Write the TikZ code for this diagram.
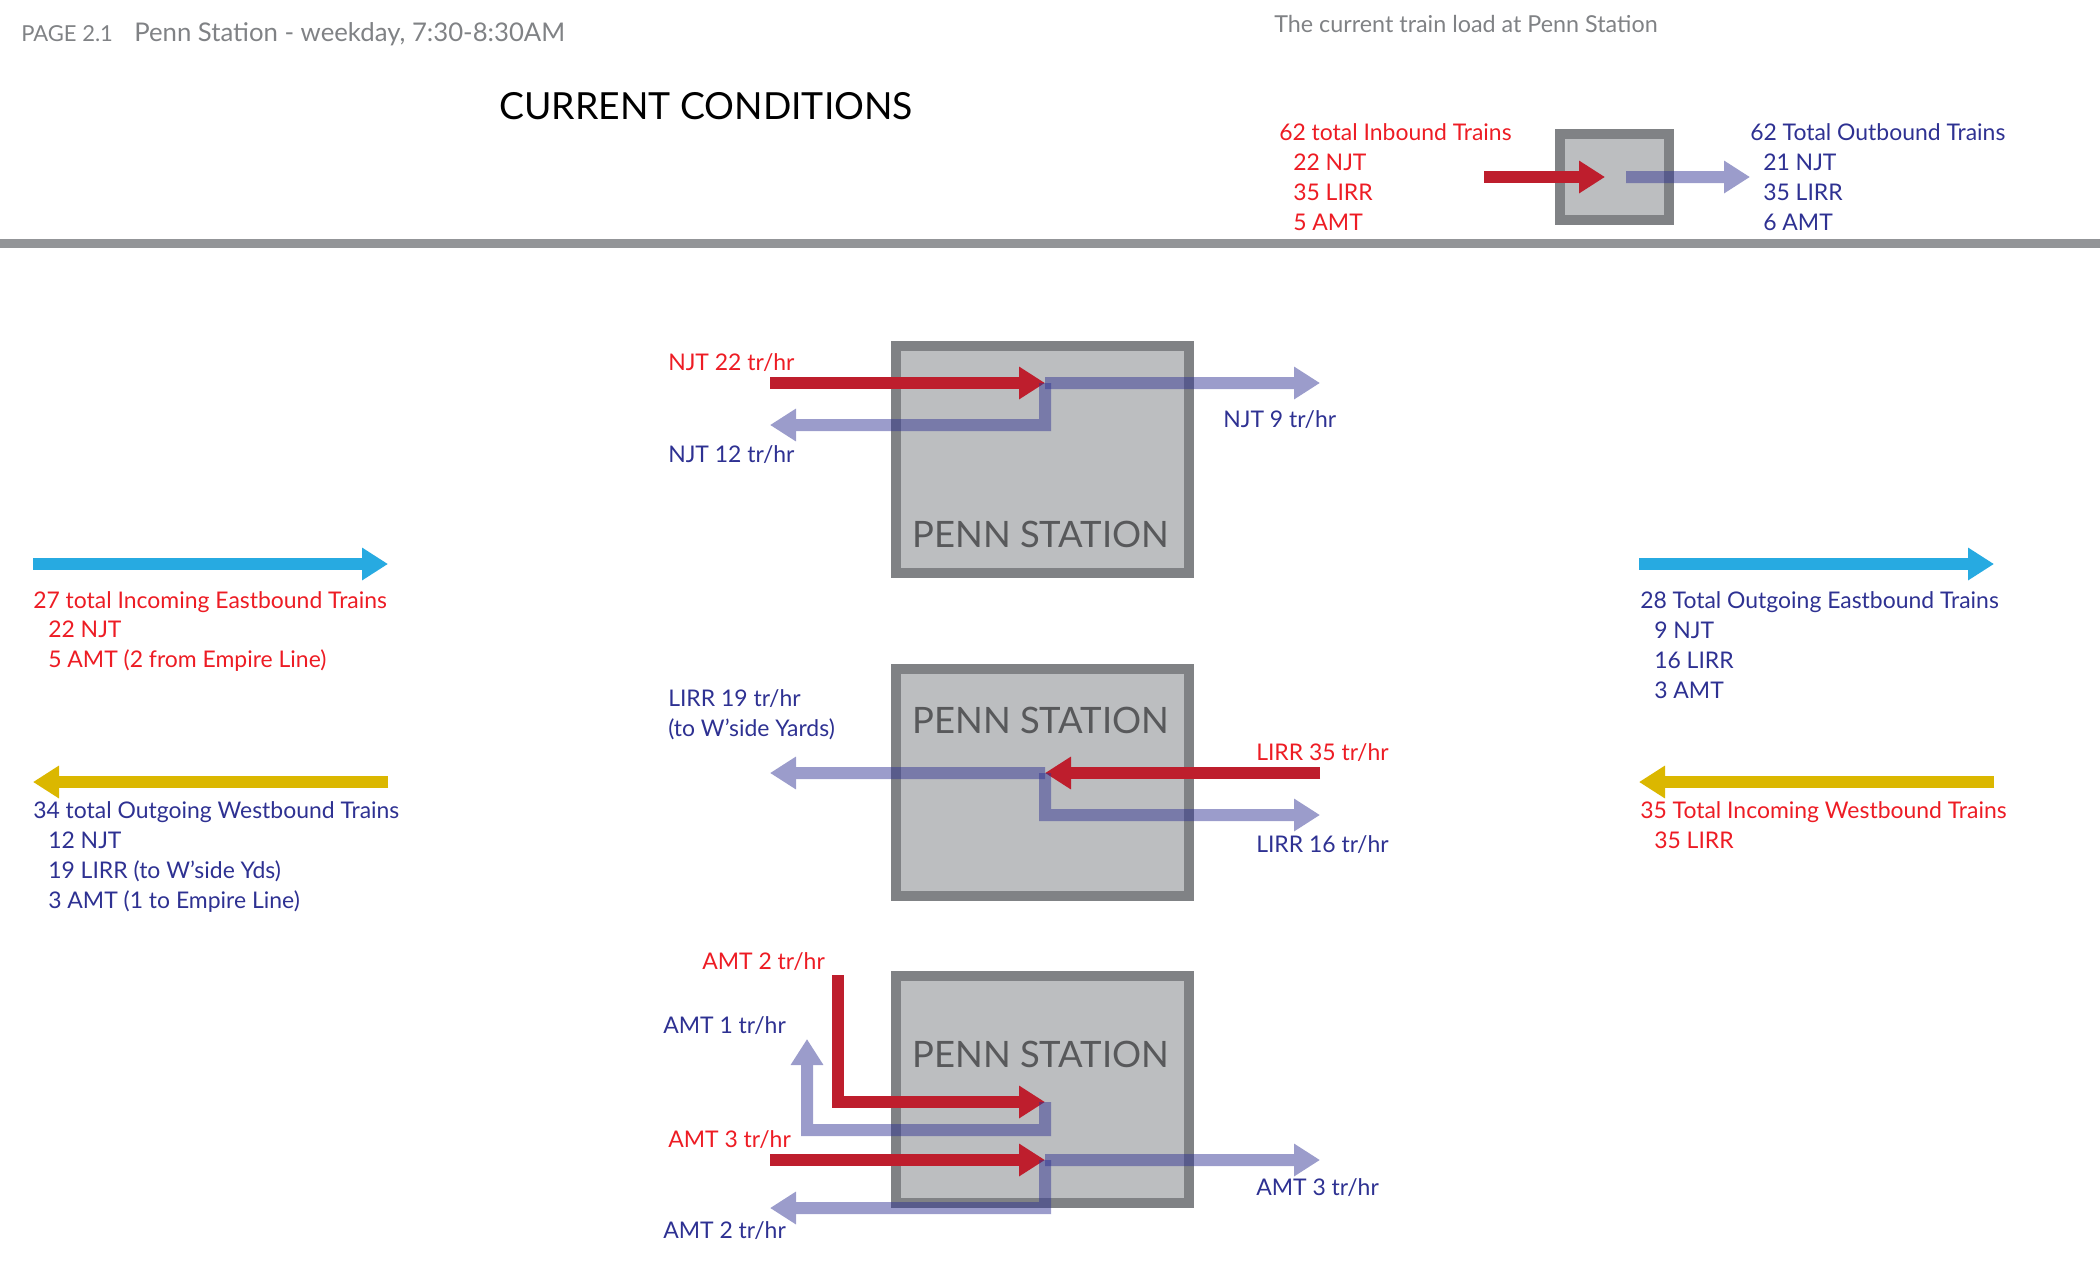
\documentclass[tikz,border=0pt]{standalone}
\usepackage{fontspec}
\setmainfont{Lato}
\usetikzlibrary{arrows.meta}

\definecolor{hdrgray}{RGB}{128,130,133}
\definecolor{rulegray}{RGB}{147,149,152}
\definecolor{boxgray}{RGB}{128,130,133}
\definecolor{boxfill}{RGB}{188,190,192}
\definecolor{stngray}{RGB}{88,89,91}
\definecolor{txtred}{RGB}{237,28,36}
\definecolor{txtblue}{RGB}{46,49,146}
\definecolor{arrred}{RGB}{190,30,45}
\definecolor{arrblue}{RGB}{46,49,146}
\definecolor{arrcyan}{RGB}{39,170,225}
\definecolor{arryellow}{RGB}{219,183,0}

\begin{document}
\begin{tikzpicture}[x=0.75pt,y=0.75pt,yscale=-1,xscale=1,
  lbl/.style={anchor=base west,inner sep=0pt,align=left,font=\fontsize{17.2}{22.4}\selectfont},
  redtxt/.style={lbl,text=txtred},
  bluetxt/.style={lbl,text=txtblue},
  hdrtxt/.style={anchor=base west,inner sep=0pt,text=hdrgray},
  stnbox/.style={draw=boxgray,fill=boxfill,line width=7.5pt,minimum width=219.75pt,minimum height=170.25pt,inner sep=0pt},
  stntxt/.style={anchor=base west,inner sep=0pt,text=stngray,font=\fontsize{27.3}{30}\selectfont},
  flow/.style={line width=9pt,-{Triangle[length=19.5pt,width=23.25pt]}},
  inflow/.style={flow,draw=arrred},
  outflow/.style={flow,draw=arrblue},
  ghost/.style={transparency group,opacity=0.48}]
\useasboundingbox (0,0) rectangle (2100,1275);

%Header
\node[hdrtxt,font=\fontsize{16.5}{19}\selectfont] (pagenum) at (21,41) {PAGE 2.1};
\node[hdrtxt,font=\fontsize{19.3}{22}\selectfont] (pagetitle) at (134,41) {Penn Station - weekday, 7:30-8:30AM};
\node[hdrtxt,font=\fontsize{17.5}{20}\selectfont] (loadtitle) at (1274,32) {The current train load at Penn Station};
\node[anchor=base west,inner sep=0pt,font=\fontsize{28}{32}\selectfont] (condtitle) at (499,119) {CURRENT CONDITIONS};
%Rule
\fill[rulegray] (0,239) rectangle (2100,248);

%Shape: station boxes
\node[stnbox,minimum width=81.75pt,minimum height=64.5pt] (stnall) at (1614.5,177) {};
\node[stnbox] (stnnjt) at (1042.5,459.5) {};
\node[stnbox] (stnlirr) at (1042.5,782) {};
\node[stnbox] (stnamt) at (1042.5,1089) {};
\node[stntxt] (namenjt) at (912,547) {PENN STATION};
\node[stntxt] (namelirr) at (912,733) {PENN STATION};
\node[stntxt] (nameamt) at (912,1067) {PENN STATION};

%Points of the flows
\coordinate (allin) at (1484,177); \coordinate (allmid) at (1605,177);
\coordinate (allfrom) at (1626,177); \coordinate (allout) at (1750,177);
\coordinate (njtin) at (770,383); \coordinate (njtjoin) at (1045,383);
\coordinate (njtout) at (1320,383); \coordinate (njtturn) at (1045,425);
\coordinate (njtback) at (770,425);
\coordinate (lirrin) at (1320,773); \coordinate (lirrjoin) at (1045,773);
\coordinate (lirrout) at (770,773); \coordinate (lirrturn) at (1045,815);
\coordinate (lirrback) at (1320,815);
\coordinate (empin) at (838,975); \coordinate (empturn) at (838,1102);
\coordinate (empjoin) at (1045,1102); \coordinate (empdown) at (1045,1130);
\coordinate (empleft) at (807,1130); \coordinate (empout) at (807,1039);
\coordinate (amtin) at (770,1160); \coordinate (amtjoin) at (1045,1160);
\coordinate (amtout) at (1320,1160); \coordinate (amtturn) at (1045,1208);
\coordinate (amtback) at (770,1208);
\coordinate (ebinw) at (33,564); \coordinate (ebine) at (388,564);
\coordinate (eboutw) at (1639,564); \coordinate (eboute) at (1994,564);
\coordinate (wboutw) at (33,782); \coordinate (wboute) at (388,782);
\coordinate (wbinw) at (1639,782); \coordinate (wbine) at (1994,782);

%Inbound flows
\draw[inflow] (allin) -- (allmid);
\draw[inflow] (njtin) -- (njtjoin);
\draw[inflow] (lirrin) -- (lirrjoin);
\draw[inflow] (empin) -- (empturn) -- (empjoin);
\draw[inflow] (amtin) -- (amtjoin);
%Outbound flows
\begin{scope}[ghost]\draw[outflow] (allfrom) -- (allout);\end{scope}
\begin{scope}[ghost]\draw[outflow] (njtjoin) -- (njtout);\end{scope}
\begin{scope}[ghost]\draw[outflow] (njtjoin) -- (njtturn) -- (njtback);\end{scope}
\begin{scope}[ghost]\draw[outflow] (lirrjoin) -- (lirrout);\end{scope}
\begin{scope}[ghost]\draw[outflow] (lirrjoin) -- (lirrturn) -- (lirrback);\end{scope}
\begin{scope}[ghost]\draw[outflow] (empjoin) -- (empdown) -- (empleft) -- (empout);\end{scope}
\begin{scope}[ghost]\draw[outflow] (amtjoin) -- (amtout);\end{scope}
\begin{scope}[ghost]\draw[outflow] (amtjoin) -- (amtturn) -- (amtback);\end{scope}
%Directions
\draw[flow,draw=arrcyan] (ebinw) -- (ebine);
\draw[flow,draw=arrcyan] (eboutw) -- (eboute);
\draw[flow,draw=arryellow] (wboute) -- (wboutw);
\draw[flow,draw=arryellow] (wbine) -- (wbinw);

% Text Node (multi-line texts sit on their last baseline)
\node[redtxt] (inbound) at (1279,140) {62 total Inbound Trains};
\node[redtxt] (inlist) at (1293,230) {22 NJT\\35 LIRR\\5 AMT};
\node[bluetxt] (outbound) at (1750,140) {62 Total Outbound Trains};
\node[bluetxt] (outlist) at (1763,230) {21 NJT\\35 LIRR\\6 AMT};
% Text Node
\node[redtxt] (ebin) at (33,608) {27 total Incoming Eastbound Trains};
\node[redtxt] (ebinlist) at (48,667) {22 NJT\\5 AMT (2 from Empire Line)};
\node[bluetxt] (wbout) at (33,818) {34 total Outgoing Westbound Trains};
\node[bluetxt] (wboutlist) at (48,908) {12 NJT\\19 LIRR (to W’side Yds)\\3 AMT (1 to Empire Line)};
\node[bluetxt] (ebout) at (1640,608) {28 Total Outgoing Eastbound Trains};
\node[bluetxt] (eboutlist) at (1654,698) {9 NJT\\16 LIRR\\3 AMT};
\node[redtxt] (wbin) at (1640,818) {35 Total Incoming Westbound Trains};
\node[redtxt] (wbinlist) at (1654,848) {35 LIRR};
% Text Node
\node[redtxt] (njtinlbl) at (668,370) {NJT 22 tr/hr};
\node[bluetxt] (njtbacklbl) at (668,462) {NJT 12 tr/hr};
\node[bluetxt] (njtoutlbl) at (1223,427) {NJT 9 tr/hr};
\node[bluetxt] (lirroutlbl) at (668,736) {LIRR 19 tr/hr\\(to W’side Yards)};
\node[redtxt] (lirrinlbl) at (1256,760) {LIRR 35 tr/hr};
\node[bluetxt] (lirrbacklbl) at (1256,852) {LIRR 16 tr/hr};
\node[redtxt] (empinlbl) at (702,969) {AMT 2 tr/hr};
\node[bluetxt] (empoutlbl) at (663,1033) {AMT 1 tr/hr};
\node[redtxt] (amtinlbl) at (668,1147) {AMT 3 tr/hr};
\node[bluetxt] (amtoutlbl) at (1256,1195) {AMT 3 tr/hr};
\node[bluetxt] (amtbacklbl) at (663,1238) {AMT 2 tr/hr};

\end{tikzpicture}
\end{document}
